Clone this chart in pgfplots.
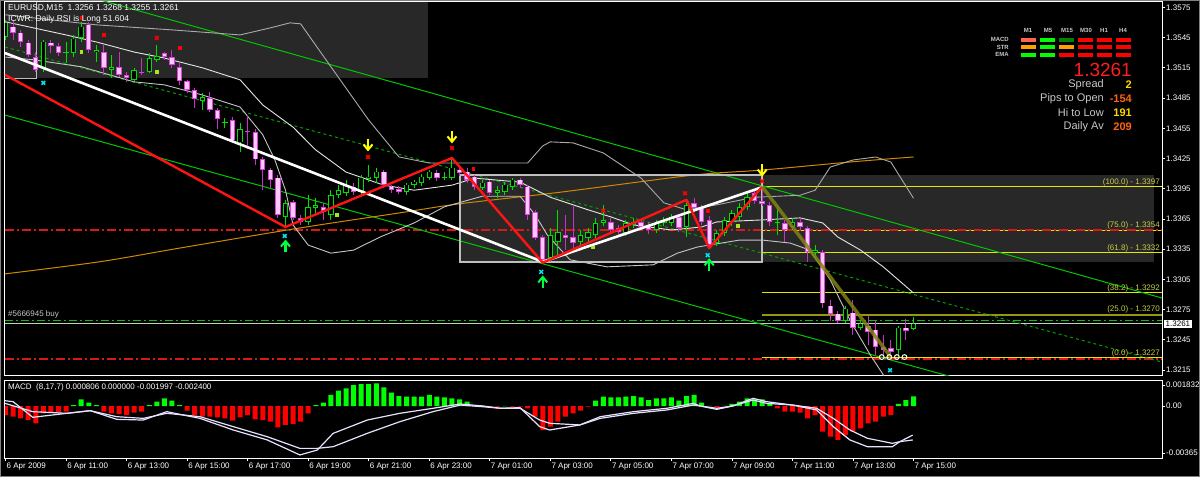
\documentclass[border=0pt]{standalone}
\usepackage{pgfplots}
\pgfplotsset{compat=1.18}
\usepackage{pgfplotstable}
\usepackage{fontspec}
\setmainfont{Liberation Sans}
\newcommand\fsz[1]{\fontsize{#1}{#1}\selectfont}

\definecolor{bullc}{RGB}{0,224,0}
\definecolor{bearc}{RGB}{224,64,224}
\definecolor{bearfill}{RGB}{255,200,255}
\definecolor{bearwick}{RGB}{200,50,200}
\definecolor{panel}{RGB}{40,40,40}
\definecolor{boxgray}{RGB}{190,190,190}
\definecolor{band}{RGB}{170,170,170}
\definecolor{fibc}{RGB}{230,230,0}
\definecolor{fibtxt}{RGB}{205,205,70}
\definecolor{maorange}{RGB}{210,135,0}
\definecolor{chan}{RGB}{0,200,0}
\definecolor{zig}{RGB}{255,20,20}
\definecolor{olivez}{RGB}{130,130,20}
\definecolor{lvl}{RGB}{215,25,25}
\definecolor{hgreen}{RGB}{0,255,0}
\definecolor{hred}{RGB}{255,0,0}
\definecolor{macdl}{RGB}{230,225,255}
\definecolor{dotgreen}{RGB}{170,230,30}
\definecolor{cyanx}{RGB}{0,230,240}
\definecolor{arrowy}{RGB}{255,255,0}
\definecolor{arrowg}{RGB}{0,255,60}
\definecolor{txtgray}{RGB}{200,200,200}

\pgfdeclareplotmark{darr}{%
  \pgfsetlinewidth{2.4pt}\pgfsetbuttcap
  \pgfpathmoveto{\pgfqpoint{0pt}{6pt}}\pgfpathlineto{\pgfqpoint{0pt}{-4pt}}
  \pgfusepathqstroke
  \pgfsetlinewidth{2pt}
  \pgfpathmoveto{\pgfqpoint{-4.5pt}{0.5pt}}\pgfpathlineto{\pgfqpoint{0pt}{-5pt}}\pgfpathlineto{\pgfqpoint{4.5pt}{0.5pt}}
  \pgfusepathqstroke}
\pgfdeclareplotmark{uarr}{%
  \pgfsetlinewidth{2.4pt}\pgfsetbuttcap
  \pgfpathmoveto{\pgfqpoint{0pt}{-6pt}}\pgfpathlineto{\pgfqpoint{0pt}{4pt}}
  \pgfusepathqstroke
  \pgfsetlinewidth{2pt}
  \pgfpathmoveto{\pgfqpoint{-4.5pt}{-0.5pt}}\pgfpathlineto{\pgfqpoint{0pt}{5pt}}\pgfpathlineto{\pgfqpoint{4.5pt}{-0.5pt}}
  \pgfusepathqstroke}

\pgfplotsset{
  eb/.style 2 args={draw=none, mark=none, error bars/.cd, y dir=plus, y explicit,
    error mark=none, error bar style={draw=#1, line width=#2}},
  mtax/.style={scale only axis, width=1157pt, anchor=south west,
    xmin=-0.07, xmax=152.84,
    scaled y ticks=false, scaled x ticks=false,
    axis background/.style={fill=black},
    axis line style={white, line width=1pt},
    tick style={white, line width=0.8pt}, tick align=outside, major tick length=3pt,
    ytick pos=right, yticklabel pos=right,
    yticklabel style={font=\fsz{8}, text=white, anchor=west, inner sep=1pt},
    clip=true},
}

% bullish bars: bar index, open, high, low, close
\pgfplotstableread{
i o h l c
0 1.3546 1.3563 1.3543 1.3560
5 1.3515 1.3543 1.3511 1.3541
8 1.3530 1.3541 1.3520 1.3531
9 1.3530 1.3548 1.3526 1.3544
10 1.3545 1.3561 1.3541 1.3556
12 1.3531 1.3538 1.3521 1.3533
14 1.3513 1.3528 1.3505 1.3516
17 1.3503 1.3515 1.3500 1.3513
19 1.3511 1.3530 1.3510 1.3525
20 1.3523 1.3538 1.3521 1.3527
26 1.3482 1.3490 1.3473 1.3486
29 1.3460 1.3465 1.3455 1.3461
31 1.3441 1.3460 1.3431 1.3454
37 1.3367 1.3384 1.3357 1.3381
40 1.3362 1.3389 1.3359 1.3377
41 1.3376 1.3386 1.3369 1.3379
43 1.3369 1.3394 1.3364 1.3389
44 1.3389 1.3399 1.3386 1.3394
45 1.3391 1.3404 1.3388 1.3399
47 1.3392 1.3409 1.3389 1.3406
48 1.3405 1.3419 1.3402 1.3407
49 1.3406 1.3416 1.3401 1.3412
53 1.3392 1.3401 1.3389 1.3399
54 1.3399 1.3404 1.3396 1.3402
55 1.3401 1.3410 1.3398 1.3407
56 1.3406 1.3414 1.3404 1.3412
58 1.3406 1.3412 1.3404 1.3407
59 1.3406 1.3426 1.3404 1.3416
63 1.3396 1.3404 1.3394 1.3401
65 1.3391 1.3398 1.3386 1.3394
66 1.3392 1.3402 1.3389 1.3399
67 1.3397 1.3406 1.3394 1.3404
72 1.3326 1.3356 1.3322 1.3349
73 1.3342 1.3374 1.3329 1.3352
76 1.3342 1.3354 1.3338 1.3349
77 1.3346 1.3356 1.3342 1.3352
78 1.3349 1.3366 1.3346 1.3361
79 1.3361 1.3379 1.3358 1.3364
82 1.3351 1.3364 1.3348 1.3361
83 1.3359 1.3366 1.3356 1.3362
86 1.3354 1.3364 1.3351 1.3361
87 1.3361 1.3367 1.3358 1.3364
88 1.3361 1.3370 1.3358 1.3367
90 1.3357 1.3384 1.3347 1.3379
94 1.3341 1.3354 1.3338 1.3351
95 1.3351 1.3367 1.3348 1.3364
96 1.3362 1.3374 1.3358 1.3371
97 1.3367 1.3381 1.3364 1.3377
98 1.3377 1.3391 1.3374 1.3387
102 1.3361 1.3379 1.3349 1.3362
104 1.3357 1.3366 1.3354 1.3362
107 1.3331 1.3339 1.3326 1.3334
111 1.3264 1.3279 1.3262 1.3276
113 1.3257 1.3264 1.3255 1.3261
118 1.3235 1.3259 1.3230 1.3257
120 1.3256 1.3268 1.3255 1.3261
}\bull

% bearish bars
\pgfplotstableread{
i o h l c
1 1.3556 1.3563 1.3543 1.3550
2 1.3550 1.3553 1.3536 1.3541
3 1.3540 1.3543 1.3526 1.3528
4 1.3526 1.3531 1.3511 1.3513
6 1.3540 1.3543 1.3530 1.3537
7 1.3537 1.3540 1.3527 1.3530
11 1.3558 1.3561 1.3530 1.3533
13 1.3531 1.3538 1.3508 1.3515
15 1.3516 1.3531 1.3506 1.3508
16 1.3508 1.3511 1.3501 1.3505
18 1.3511 1.3525 1.3508 1.3510
21 1.3530 1.3531 1.3523 1.3526
22 1.3526 1.3533 1.3515 1.3518
23 1.3516 1.3520 1.3498 1.3502
24 1.3502 1.3503 1.3490 1.3493
25 1.3493 1.3495 1.3475 1.3484
27 1.3485 1.3491 1.3471 1.3473
28 1.3473 1.3475 1.3454 1.3464
30 1.3463 1.3466 1.3442 1.3443
32 1.3452 1.3468 1.3434 1.3451
33 1.3451 1.3454 1.3419 1.3424
34 1.3424 1.3426 1.3394 1.3414
35 1.3414 1.3416 1.3396 1.3404
36 1.3406 1.3409 1.3366 1.3369
38 1.3382 1.3384 1.3364 1.3366
39 1.3366 1.3369 1.3359 1.3362
42 1.3377 1.3381 1.3364 1.3372
46 1.3397 1.3401 1.3389 1.3392
50 1.3412 1.3414 1.3396 1.3399
51 1.3397 1.3399 1.3391 1.3394
52 1.3395 1.3398 1.3390 1.3392
57 1.3411 1.3414 1.3403 1.3406
60 1.3414 1.3419 1.3408 1.3411
61 1.3412 1.3416 1.3401 1.3404
62 1.3407 1.3409 1.3394 1.3397
64 1.3402 1.3404 1.3389 1.3391
68 1.3404 1.3406 1.3396 1.3399
69 1.3397 1.3399 1.3364 1.3369
70 1.3372 1.3374 1.3344 1.3346
71 1.3347 1.3349 1.3321 1.3324
74 1.3349 1.3369 1.3334 1.3346
75 1.3347 1.3379 1.3334 1.3341
80 1.3362 1.3366 1.3351 1.3354
81 1.3356 1.3359 1.3349 1.3352
84 1.3362 1.3365 1.3354 1.3357
85 1.3359 1.3362 1.3350 1.3354
89 1.3367 1.3370 1.3352 1.3356
91 1.3381 1.3386 1.3372 1.3376
92 1.3376 1.3379 1.3359 1.3362
93 1.3364 1.3368 1.3336 1.3339
99 1.3391 1.3394 1.3380 1.3383
100 1.3383 1.3397 1.3378 1.3380
101 1.3379 1.3382 1.3358 1.3362
103 1.3361 1.3364 1.3342 1.3354
105 1.3362 1.3366 1.3354 1.3357
106 1.3356 1.3358 1.3322 1.3332
108 1.3332 1.3334 1.3277 1.3281
109 1.3279 1.3284 1.3264 1.3271
110 1.3271 1.3274 1.3262 1.3264
112 1.3272 1.3284 1.3250 1.3257
114 1.3259 1.3269 1.3240 1.3253
115 1.3255 1.3264 1.3230 1.3238
116 1.3238 1.3250 1.3227 1.3235
117 1.3237 1.3245 1.3229 1.3233
119 1.3257 1.3266 1.3245 1.3254
}\bear

\begin{document}
\begin{tikzpicture}[x=1pt,y=1pt]
\fill[black] (0,0) rectangle (1200,477);

% ---------------- price window ----------------
\begin{axis}[mtax, at={(5pt,101pt)}, height=374pt,
  ymin=1.32090, ymax=1.35804,
  xtick=\empty,
  ytick={1.3215,1.3245,1.3275,1.3305,1.3335,1.3365,1.3395,1.3425,1.3455,1.3485,1.3515,1.3545,1.3575},
  yticklabels={1.3215,1.3245,1.3275,1.3305,1.3335,1.3365,1.3395,1.3425,1.3455,1.3485,1.3515,1.3545,1.3575},
]
% shaded boxes
\addplot[fill=panel, draw=none] coordinates {(-0.07,1.35804)(55.83,1.35804)(55.83,1.35052)(-0.07,1.35052)};
\addplot[fill=panel, draw=none] coordinates {(60.06,1.34085)(151.77,1.34085)(151.77,1.33224)(60.06,1.33224)};
\addplot[draw=boxgray, line width=1pt] coordinates {(4.03,1.35804)(4.03,1.35041)(-0.07,1.35041)};

% fibonacci levels
\addplot[fibc, line width=0.8pt] coordinates {(100,1.3397)(152.84,1.3397)};
\addplot[fibc, line width=0.8pt] coordinates {(100,1.3354)(152.84,1.3354)};
\addplot[fibc, line width=0.8pt] coordinates {(100,1.3332)(152.84,1.3332)};
\addplot[fibc, line width=0.8pt] coordinates {(100,1.3292)(152.84,1.3292)};
\addplot[olivez!80!fibc, line width=2pt] coordinates {(100,1.3270)(152.84,1.3270)};
\addplot[fibc, line width=0.8pt] coordinates {(100,1.3227)(152.84,1.3227)};

% order / level lines
\addplot[lvl, line width=1.4pt, dash pattern=on 9pt off 3pt on 2pt off 3pt] coordinates {(-0.07,1.3354)(152.84,1.3354)};
\addplot[lvl, line width=1.4pt, dash pattern=on 9pt off 3pt on 2pt off 3pt] coordinates {(-0.07,1.32258)(152.84,1.32258)};
\addplot[chan, line width=1pt, dash pattern=on 8pt off 3pt on 2pt off 3pt] coordinates {(-0.07,1.32644)(152.84,1.32644)};
\addplot[txtgray, line width=0.8pt] coordinates {(-0.07,1.3261)(152.84,1.3261)};

% channels
\addplot[chan, line width=1pt] coordinates {(-0.07,1.36089)(152.84,1.32864)};
\addplot[chan, line width=1pt] coordinates {(-0.07,1.34681)(152.84,1.31504)};
\addplot[chan!80!black, line width=1pt, dash pattern=on 3pt off 3pt] coordinates {(-0.07,1.35357)(152.84,1.32228)};

% moving average
\addplot[maorange, line width=1pt, smooth] coordinates {(-0.07,1.33104)(12.4,1.33224)(23,1.33360)(38.9,1.33560)(52.1,1.33710)(60,1.33800)(73.3,1.33915)(90.9,1.34085)(100,1.34135)(111.6,1.34215)(120,1.34265)};

% bollinger bands
\addplot[band, line width=0.9pt] coordinates {(0,1.35677)(12,1.35577)(22,1.35527)(31,1.35477)(35,1.35547)(37.6,1.35597)(39,1.35587)(43,1.35161)(48,1.34631)(52,1.34265)(56,1.34205)(69,1.34205)(71,1.34375)(72,1.34415)(75,1.34405)(79,1.34305)(84,1.34055)(87,1.33810)(90,1.33740)(94,1.33790)(99,1.33865)(105,1.33885)(107,1.33935)(109,1.34165)(112,1.34235)(115,1.34265)(117,1.34215)(120,1.33855)};
\addplot[white!90!black, line width=0.9pt] coordinates {(0,1.35607)(8,1.35477)(12,1.35407)(17,1.35307)(21,1.35247)(26,1.35151)(31,1.35031)(34,1.34781)(38,1.34561)(41,1.34335)(45,1.34115)(50,1.33985)(54,1.33935)(59,1.33985)(62,1.34055)(68,1.34015)(72,1.33865)(77,1.33740)(80,1.33670)(83,1.33590)(88,1.33540)(92,1.33570)(94,1.33620)(100,1.33640)(105,1.33660)(108,1.33610)(110,1.33470)(113,1.33340)(116,1.33174)(120,1.32914)};
\addplot[band!70!white, line width=0.9pt] coordinates {(0,1.35257)(3.6,1.35231)(10,1.35161)(17,1.35011)(21,1.34981)(26,1.34881)(31,1.34761)(34,1.34485)(35.6,1.34235)(37,1.33935)(38,1.33590)(40,1.33390)(43,1.33310)(46,1.33340)(49.5,1.33470)(54,1.33610)(58,1.33770)(63,1.33875)(68,1.33875)(70,1.33690)(71.6,1.33490)(74.6,1.33244)(79.5,1.33174)(85.6,1.33194)(88.8,1.33310)(91.4,1.33370)(97,1.33440)(100,1.33440)(103.7,1.33410)(106.3,1.33340)(109,1.33044)(111.6,1.32644)(114.3,1.32298)(116.3,1.32068)};

% box outline
\addplot[draw=boxgray, line width=1.5pt] coordinates {(60.06,1.34085)(100,1.34085)(100,1.33224)(60.06,1.33224)(60.06,1.34085)};

% candles
\addplot[eb={bullc}{1pt}] table[x=i, y=l, y error expr={\thisrow{h}-\thisrow{l}}] {\bull};
\addplot[eb={bullc}{5.4pt}] table[x=i, y=o, y error expr={\thisrow{c}-\thisrow{o}}] {\bull};
\addplot[eb={black}{3.4pt}] table[x=i, y expr={\thisrow{o}+0.00008}, y error expr={max(\thisrow{c}-\thisrow{o}-0.00016,0)}] {\bull};
\addplot[eb={bearwick}{1pt}] table[x=i, y=l, y error expr={\thisrow{h}-\thisrow{l}}] {\bear};
\addplot[eb={bearc}{5.4pt}] table[x=i, y=c, y error expr={\thisrow{o}-\thisrow{c}}] {\bear};
\addplot[eb={bearfill}{3.4pt}] table[x=i, y expr={\thisrow{c}+0.00008}, y error expr={max(\thisrow{o}-\thisrow{c}-0.00016,0)}] {\bear};

% trend line and zigzag
\addplot[white, line width=2.6pt] coordinates {(-0.07,1.35297)(71,1.33224)(100,1.33965)};
\addplot[zig, line width=2.4pt, line join=round] coordinates {(-0.07,1.35081)(37,1.33570)(59,1.34255)(71,1.33215)(90,1.33840)(93,1.33360)(100,1.33970)};
\addplot[olivez, opacity=0.85, line width=3.5pt] coordinates {(100,1.33970)(117,1.32278)};

% signal marks
\addplot[only marks, mark=square*, mark size=1.4pt, color=red] coordinates {(10,1.35647)(13,1.35477)(23,1.35347)(61.8,1.34145)(92.8,1.33730)};
\addplot[only marks, mark=square*, mark size=1.4pt, color=dotgreen] coordinates {(10,1.35307)(20,1.35111)(43.8,1.33690)(77.6,1.33370)(96.8,1.33580)};
\addplot[only marks, mark=x, mark size=2.6pt, line width=1.5pt, color=red] coordinates {(20,1.35447)(47.9,1.34265)(59,1.34355)(79,1.33730)(89.8,1.33905)(100,1.34025)};
\addplot[only marks, mark=x, mark size=2.6pt, line width=1.5pt, color=cyanx] coordinates {(5,1.35001)(36.9,1.33480)(70.8,1.33124)(92.8,1.33290)(116.9,1.32148)};
\addplot[only marks, mark=darr, color=arrowy] coordinates {(47.9,1.34385)(59,1.34465)(100,1.34135)};
\addplot[only marks, mark=uarr, color=arrowg] coordinates {(37,1.33380)(71,1.33024)(93,1.33194)(116.9,1.32040)};
\addplot[only marks, mark=o, mark size=2.4pt, line width=1pt, color=white] coordinates {(115.8,1.32278)(116.8,1.32278)(117.8,1.32278)(118.8,1.32278)};
\end{axis}

% ---------------- MACD window ----------------
\begin{axis}[mtax, at={(5pt,19pt)}, height=78pt,
  ymin=-0.004333, ymax=0.002167,
  ytick={-0.00392,0,0.00175}, yticklabels={-0.00365,0.00,0.001832},
  xtick={0,8,16,24,32,40,48,56,64,72,80,88,96,104,112,120},
  xticklabels={6 Apr 2009,6 Apr 11:00,6 Apr 13:00,6 Apr 15:00,6 Apr 17:00,6 Apr 19:00,6 Apr 21:00,6 Apr 23:00,7 Apr 01:00,7 Apr 03:00,7 Apr 05:00,7 Apr 07:00,7 Apr 09:00,7 Apr 11:00,7 Apr 13:00,7 Apr 15:00},
  xtick pos=bottom,
  xticklabel style={font=\fsz{8}, text=white, anchor=north west, inner sep=1pt, yshift=-1pt},
]
\addplot[ybar, bar width=5pt, bar shift=0pt, fill=hgreen, draw=none] coordinates {(9,0.00008)(10,0.00056)(11,0.00028)(12,0.00008)(19,0.00008)(20,0.00036)(21,0.00064)(22,0.00044)(23,0.00008)(41,0.00008)(42,0.00028)(43,0.00092)(44,0.00128)(45,0.00147)(46,0.00175)(47,0.00183)(48,0.00183)(49,0.00189)(50,0.00156)(51,0.00111)(52,0.00083)(53,0.00078)(54,0.00078)(55,0.00078)(56,0.00092)(57,0.00078)(58,0.00072)(59,0.00064)(60,0.00056)(61,0.00036)(62,0.00008)(63,0.00003)(66,0.00002)(78,0.00044)(79,0.00078)(80,0.00072)(81,0.00072)(82,0.00078)(83,0.00083)(84,0.00072)(85,0.00050)(86,0.00064)(87,0.00064)(88,0.00072)(89,0.00044)(90,0.00083)(91,0.00092)(92,0.00028)(93,0.00002)(95,0.00002)(96,0.00017)(97,0.00036)(98,0.00064)(99,0.00056)(100,0.00056)(101,0.00022)(118,0.00017)(119,0.00050)(120,0.00081)};
\addplot[ybar, bar width=5pt, bar shift=0pt, fill=hred, draw=none] coordinates {(0,-0.00075)(1,-0.00089)(2,-0.00103)(3,-0.00117)(4,-0.00144)(5,-0.00061)(6,-0.00056)(7,-0.00056)(8,-0.00047)(13,-0.00047)(14,-0.00061)(15,-0.00067)(16,-0.00075)(17,-0.00056)(18,-0.00047)(24,-0.00039)(25,-0.00075)(26,-0.00089)(27,-0.00089)(28,-0.00094)(29,-0.00103)(30,-0.00122)(31,-0.00094)(32,-0.00075)(33,-0.00111)(34,-0.00117)(35,-0.00131)(36,-0.00178)(37,-0.00158)(38,-0.00150)(39,-0.00131)(40,-0.00061)(64,-0.00006)(65,-0.00006)(67,-0.00006)(68,-0.00006)(69,-0.00019)(70,-0.00089)(71,-0.00200)(72,-0.00172)(73,-0.00131)(74,-0.00089)(75,-0.00061)(76,-0.00039)(77,-0.00006)(94,-0.00011)(102,-0.00019)(103,-0.00047)(104,-0.00047)(105,-0.00056)(106,-0.00103)(107,-0.00075)(108,-0.00214)(109,-0.00256)(110,-0.00283)(111,-0.00242)(112,-0.00214)(113,-0.00186)(114,-0.00144)(115,-0.00131)(116,-0.00089)(117,-0.00075)};
\addplot[macdl, line width=1.2pt] coordinates {(-0.07,0.00044)(1,0.00036)(3.6,-0.00094)(8.1,-0.00061)(11.2,-0.00039)(14.7,-0.00111)(18.2,-0.00117)(21.3,-0.00047)(25.7,-0.00103)(30.1,-0.00200)(34.6,-0.00283)(38.9,-0.00408)(41.2,-0.00367)(43.3,-0.00228)(47.8,-0.00117)(52.1,-0.00061)(56.5,-0.00019)(60.1,0.00017)(63.1,0)(65.4,-0.00019)(68,-0.00014)(70.6,-0.00172)(71.9,-0.00200)(75.9,-0.00158)(78.6,-0.00089)(83,-0.00047)(87.4,-0.00019)(90.9,0.00022)(91.8,0)(94,-0.00028)(96.1,0)(98.8,0.00064)(100.6,0.00036)(104,0.00008)(107.2,-0.00033)(109.4,-0.00172)(111.6,-0.00283)(113.9,-0.00339)(117.2,-0.00339)(118.2,-0.00297)(119.9,-0.00242)};
\addplot[macdl, line width=1.2pt] coordinates {(-0.07,0.00022)(3.6,-0.00047)(8.1,-0.00061)(11.2,-0.00039)(14.7,-0.00089)(18.2,-0.00103)(21.3,-0.00061)(25.7,-0.00089)(30.1,-0.00172)(34.6,-0.00256)(38.9,-0.00353)(41.2,-0.00353)(43.3,-0.00339)(47.8,-0.00228)(52.1,-0.00131)(56.5,-0.00047)(60.1,0.00008)(63.1,-0.00006)(65.4,-0.00019)(68,-0.00019)(70.6,-0.00117)(71.9,-0.00144)(75.9,-0.00158)(78.6,-0.00103)(83,-0.00061)(87.4,-0.00033)(90.9,0.00008)(91.8,0)(94,-0.00019)(96.1,0)(98.8,0.00050)(100.6,0.00022)(104,0.00008)(107.2,-0.00019)(109.4,-0.00103)(111.6,-0.00200)(113.9,-0.00269)(117.2,-0.00311)(118.2,-0.00297)(119.9,-0.00283)};
\end{axis}

% ---------------- texts ----------------
\begin{scope}[every node/.style={inner sep=0pt}]
\node[anchor=west, text=white, font=\fsz{8.5}] at (8,469) {EURUSD,M15\ \ 1.3256 1.3268 1.3255 1.3261};
\node[anchor=west, text=white, font=\fsz{8.5}] at (8,458) {ICWR: Daily RSI is Long 51.604};
\node[anchor=west, text=txtgray, font=\fsz{8}] at (8,163) {\#5666945 buy};
\node[anchor=west, text=white, font=\fsz{8}] at (8,90) {MACD\ \ (8,17,7) 0.000806 0.000000 -0.001997 -0.002400};

\foreach \t/\yy in {(100.0) - 1.3397/295,(75.0) - 1.3354/252,(61.8) - 1.3332/229,(38.2) - 1.3292/189,(25.0) - 1.3270/168,(0.0) - 1.3227/124}
  \node[anchor=east, text=fibtxt, font=\fsz{8}] at (1160,\yy) {\t};

\foreach \t/\xx in {M1/1028,M5/1048,M15/1067,M30/1086,H1/1104,H4/1123}
  \node[text=txtgray, font=\fsz{6}\bfseries] at (\xx,447) {\t};
\node[anchor=east, text=txtgray, font=\fsz{6}\bfseries] at (1009,437.5) {MACD};
\node[anchor=east, text=txtgray, font=\fsz{6}\bfseries] at (1009,430) {STR};
\node[anchor=east, text=txtgray, font=\fsz{6}\bfseries] at (1009,422.5) {EMA};
\foreach \c [count=\k from 0] in {{255,100,80},{0,255,0},{0,130,0},{255,0,0},{255,0,0},{255,0,0}}
  {\definecolor{cc}{RGB}{\c}\fill[cc] (1021+19*\k,435.3) rectangle ++(15,4);}
\foreach \c [count=\k from 0] in {{255,160,0},{0,255,0},{255,160,0},{255,0,0},{255,0,0},{255,0,0}}
  {\definecolor{cc}{RGB}{\c}\fill[cc] (1021+19*\k,427.8) rectangle ++(15,4);}
\foreach \c [count=\k from 0] in {{0,255,0},{0,255,0},{255,0,0},{255,0,0},{255,0,0},{255,0,0}}
  {\definecolor{cc}{RGB}{\c}\fill[cc] (1021+19*\k,420.3) rectangle ++(15,4);}

\node[anchor=east, text={rgb,255:red,255;green,30;blue,30}, font=\fsz{19}] at (1132,407) {1.3261};
\node[anchor=east, text=txtgray, font=\fsz{11}] at (1104,392) {Spread};
\node[anchor=east, text=txtgray, font=\fsz{11}] at (1104,378) {Pips to Open};
\node[anchor=east, text=txtgray, font=\fsz{11}] at (1104,364) {Hi to Low};
\node[anchor=east, text=txtgray, font=\fsz{11}] at (1104,350) {Daily Av};
\node[anchor=east, text={rgb,255:red,255;green,215;blue,0}, font=\fsz{11}\bfseries] at (1132,392) {2};
\node[anchor=east, text={rgb,255:red,255;green,100;blue,20}, font=\fsz{11}\bfseries] at (1132,378) {-154};
\node[anchor=east, text={rgb,255:red,255;green,215;blue,0}, font=\fsz{11}\bfseries] at (1132,364) {191};
\node[anchor=east, text={rgb,255:red,255;green,100;blue,20}, font=\fsz{11}\bfseries] at (1132,350) {209};

\node[anchor=west, fill=white, text=black, inner sep=1.5pt, font=\fsz{8}] at (1164,153) {1.3261};
\end{scope}

\draw[gray, line width=1pt] (0.5,0.5) rectangle (1199.5,476.5);
\pgfresetboundingbox
\useasboundingbox (0,0) rectangle (1200,477);
\end{tikzpicture}
\end{document}
